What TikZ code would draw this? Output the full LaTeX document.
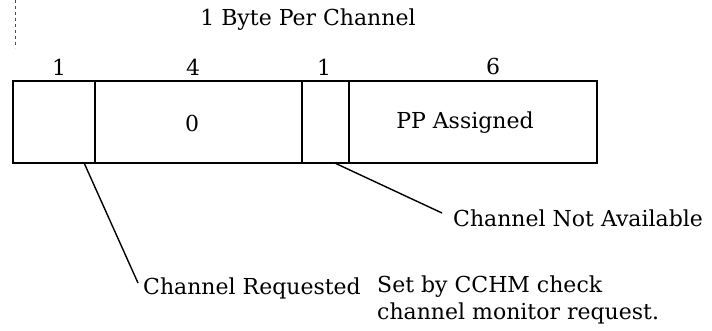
\documentclass[tikz,border=0pt]{standalone}
\usepackage{fontspec}
\setmainfont{DejaVu Serif}
\usetikzlibrary{calc}
\begin{document}
\begin{tikzpicture}[x=1pt,y=-1pt,
  lbl/.style={font=\fontsize{22}{27}\selectfont, inner sep=0pt},
  cell/.style={minimum height=82pt, inner sep=0pt},
  frame/.style={line width=2.2pt},
  divider/.style={line width=1.5pt},
  leader/.style={line width=1.4pt}]
  \useasboundingbox (0,0) rectangle (712,331);
  % faint guide line at the left margin
  \draw[line width=0.8pt, dash pattern=on 3pt off 3pt, black!70] (15,0) -- (15,48);
  % title
  \node[lbl] (title) at (308,20) {1 Byte Per Channel};
  % the four fields of the byte
  \node[cell, minimum width=82pt]  (c1) at (54,122)    {};
  \node[cell, minimum width=207pt] (c2) at (198.5,122) {};
  \node[cell, minimum width=47pt]  (c3) at (325.5,122) {};
  \node[cell, minimum width=248pt] (c4) at (473,122)   {};
  % field contents
  \node[lbl] (v2) at (192,123) {0};
  \node[lbl] (v4) at (465,123) {PP Assigned};
  % bit widths
  \node[lbl] (w1) at (59,67)  {1};
  \node[lbl] (w2) at (193,67) {4};
  \node[lbl] (w3) at (324,67) {1};
  \node[lbl] (w4) at (493,66) {6};
  % outline and dividers
  \draw[frame] (c1.north west) rectangle (c4.south east);
  \draw[divider] (c1.north east) -- (c1.south east);
  \draw[divider] (c2.north east) -- (c2.south east);
  \draw[divider] (c3.north east) -- (c3.south east);
  % labels
  \node[lbl, anchor=west] (na)  at (453,218) {Channel Not Available};
  \node[lbl, anchor=west] (req) at (143,288) {Channel Requested};
  \node[lbl, anchor=north west, align=left] (note) at (377,276)
    {Set by CCHM check\\channel monitor request.};
  % leader lines
  \draw[leader] ([xshift=-11pt]c1.south east) -- ([shift={(-5pt,5pt)}]req.west);
  \draw[leader] ([xshift=-14pt]c3.south east) -- ([shift={(-11pt,5pt)}]na.west);
\end{tikzpicture}
\end{document}
